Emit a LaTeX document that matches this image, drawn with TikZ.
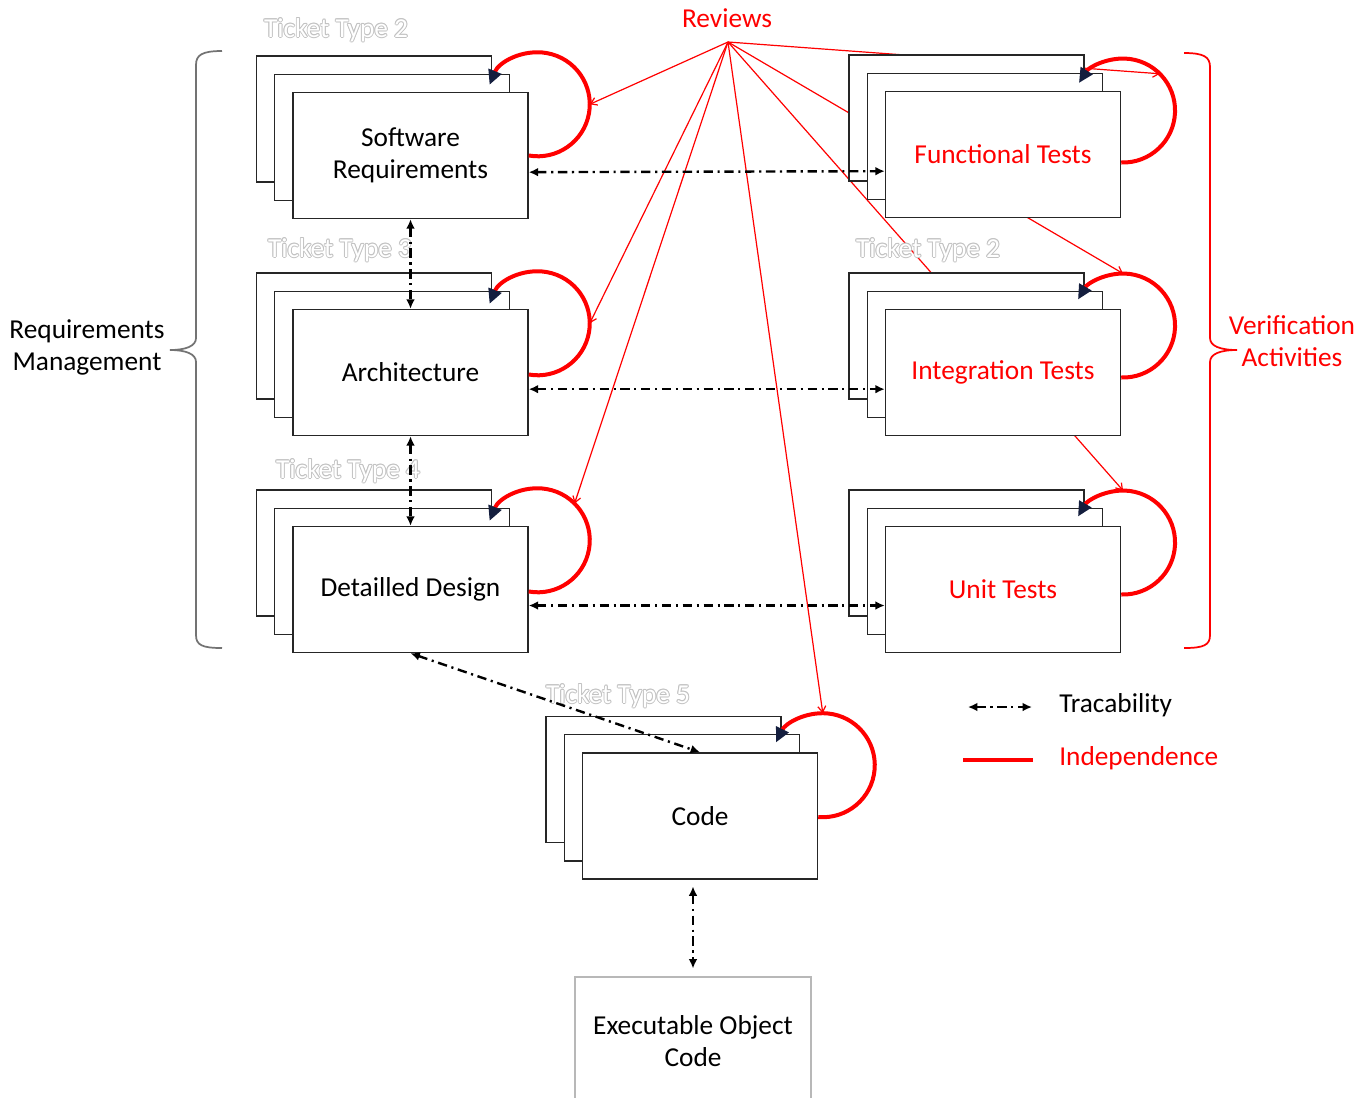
\documentclass[tikz,border=0pt]{standalone}
\usepackage{fontspec}
\setmainfont{Carlito}
\usetikzlibrary{arrows.meta,calc,backgrounds}
\definecolor{rd}{RGB}{255,0,0}
\definecolor{navy}{RGB}{20,30,62}
\definecolor{brgray}{RGB}{115,115,115}
\tikzset{
  box/.style={draw=black!85, line width=1.1pt, fill=white, minimum width=176.25pt, minimum height=94.5pt, inner sep=0pt},
  lbl/.style={font=\fontsize{20.5}{24}\selectfont, align=center},
  loopline/.style={draw=rd, line width=3pt, -{Triangle[length=11pt,width=10pt,color=navy]}},
  rev/.style={draw=rd, line width=0.9pt, -{Straight Barb[length=4.5pt,width=6pt]}},
  trace/.style={line width=1.8pt, dash pattern=on 7pt off 3.5pt on 1.6pt off 3.5pt, {Latex[length=7pt,width=6.5pt]}-{Latex[length=7pt,width=6.5pt]}},
  tick/.style={font=\fontsize{20.5}{24}\selectfont, inner sep=0pt},
}
\newcommand{\stackbox}[4]{%
  \node[box] (#1B) at ($(#2)+(-36.5,-36.5)$) {};
  \node[box] (#1M) at ($(#2)+(-18.25,-18.25)$) {};
  \node[box, lbl, text=#4] (#1F) at (#2) {#3};
}
% #1 name, #2 start angle, #3 end angle, #4 vertical offset of start (px, down)
\newcommand{\loopon}[4]{%
  \coordinate (#1S) at ($(#1F.east)+(0,#4)$);
  \coordinate (#1C) at ($(#1S)-(#2:52)$);
  \coordinate (#1R) at ($(#1C)+(52,0)$);
  \coordinate (#1D) at ($(#1C)+(-45:52)$);
  \coordinate (#1T) at ($(#1C)+(0,-52)$);
  \draw[loopline] (#1S) arc[start angle=#2,end angle=#3,radius=52];
}
\newcommand{\tickettext}[3]{%
  \foreach \a in {0,45,...,315}{\node[tick,text=black!24] at ($(#2)+(\a:0.9)$) {#3};}
  \node[tick,text=white] (#1) at (#2) {#3};
}
\begin{document}
\begin{tikzpicture}[x=0.75pt,y=-0.75pt]
\useasboundingbox (0,0) rectangle (1370,1097);

% ticket labels
\tickettext{tt1}{336,30}{Ticket Type 2}
\tickettext{tt2}{340,250}{Ticket Type 3}
\tickettext{tt3}{348,471}{Ticket Type 4}
\tickettext{tt4}{928,250}{Ticket Type 2}
\tickettext{tt5}{618,696}{Ticket Type 5}

% stacks
\stackbox{sw}{410.5,155.5}{Software\\Requirements}{black}
\stackbox{arch}{410.5,372.5}{Architecture}{black}
\stackbox{dd}{410.5,589.5}{Detailled Design}{black}
\stackbox{fun}{1003,154.5}{Functional Tests}{rd}
\stackbox{int}{1003,372.5}{Integration Tests}{rd}
\stackbox{unit}{1003,589.5}{Unit Tests}{rd}
\stackbox{code}{700,816}{Code}{black}
\node[draw=black!28, line width=0.8pt, minimum width=177pt, minimum height=96pt, lbl] (exec) at (693,1041) {Executable Object\\Code};

% loops
\loopon{sw}{100}{-158}{0}
\loopon{arch}{100}{-158}{2}
\loopon{dd}{100}{-158}{2}
\loopon{fun}{92}{-148}{8}
\loopon{int}{92}{-150}{5}
\loopon{unit}{92}{-150}{5}
\loopon{code}{95}{-154}{1}

% traceability
\draw[trace] ([yshift=-12.5pt]swF.east) -- ([yshift=-12.5pt]funF.west);
\draw[trace] ([yshift=-12.5pt]archF.east) -- ([yshift=-12.5pt]intF.west);
\draw[trace] ([yshift=-12pt]ddF.east) -- ([yshift=-12pt]unitF.west);
\draw[trace] (swF.south) -- (archF.north);
\draw[trace] (archF.south) -- (ddF.north);
\draw[trace] (ddF.south) -- (codeF.north);
\draw[trace, shorten <=5pt, shorten >=6pt] (codeF.south -| exec.north) -- (exec.north);

% reviews
\node[lbl, text=rd] (reviews) at (727,18) {Reviews};
\coordinate (rv) at (728,42);
\begin{pgfonlayer}{background}
\draw[rev] (rv) -- (swR);
\draw[rev] (rv) -- (archR);
\draw[rev] (rv) -- (ddD);
\draw[rev] (rv) -- (codeT);
\draw[rev] (rv) -- (funD);
\draw[rev] (rv) -- (intT);
\draw[rev] (rv) -- (unitT);
\end{pgfonlayer}

% braces
\draw[brgray, line width=1.3pt] (222,51) .. controls (202,51) and (196,55) .. (196,65) -- (196,338) .. controls (196,346) and (186,350) .. (170,350) .. controls (186,350) and (196,354) .. (196,362) -- (196,635) .. controls (196,645) and (202,648) .. (222,648);
\node[lbl] (reqm) at (87,347) {Requirements\\Management};
\draw[rd, line width=1.3pt] (1184,53) .. controls (1204,53) and (1210,57) .. (1210,67) -- (1210,338) .. controls (1210,346) and (1220,350) .. (1237,350) .. controls (1220,350) and (1210,354) .. (1210,362) -- (1210,635) .. controls (1210,645) and (1204,648) .. (1184,648);
\node[lbl, text=rd] (verif) at (1292,341) {Verification\\Activities};

% legend
\coordinate (lg1) at (968,707);
\coordinate (lg2) at (1032,707);
\draw[trace] (lg1) -- (lg2);
\node[lbl, anchor=west, inner sep=0pt] (legT) at (1059,705) {Tracability};
\coordinate (lg3) at (963,760);
\coordinate (lg4) at (1033,760);
\draw[rd, line width=2.4pt] (lg3) -- (lg4);
\node[lbl, anchor=west, inner sep=0pt, text=rd] (legI) at (1059,758) {Independence};
\end{tikzpicture}
\end{document}
